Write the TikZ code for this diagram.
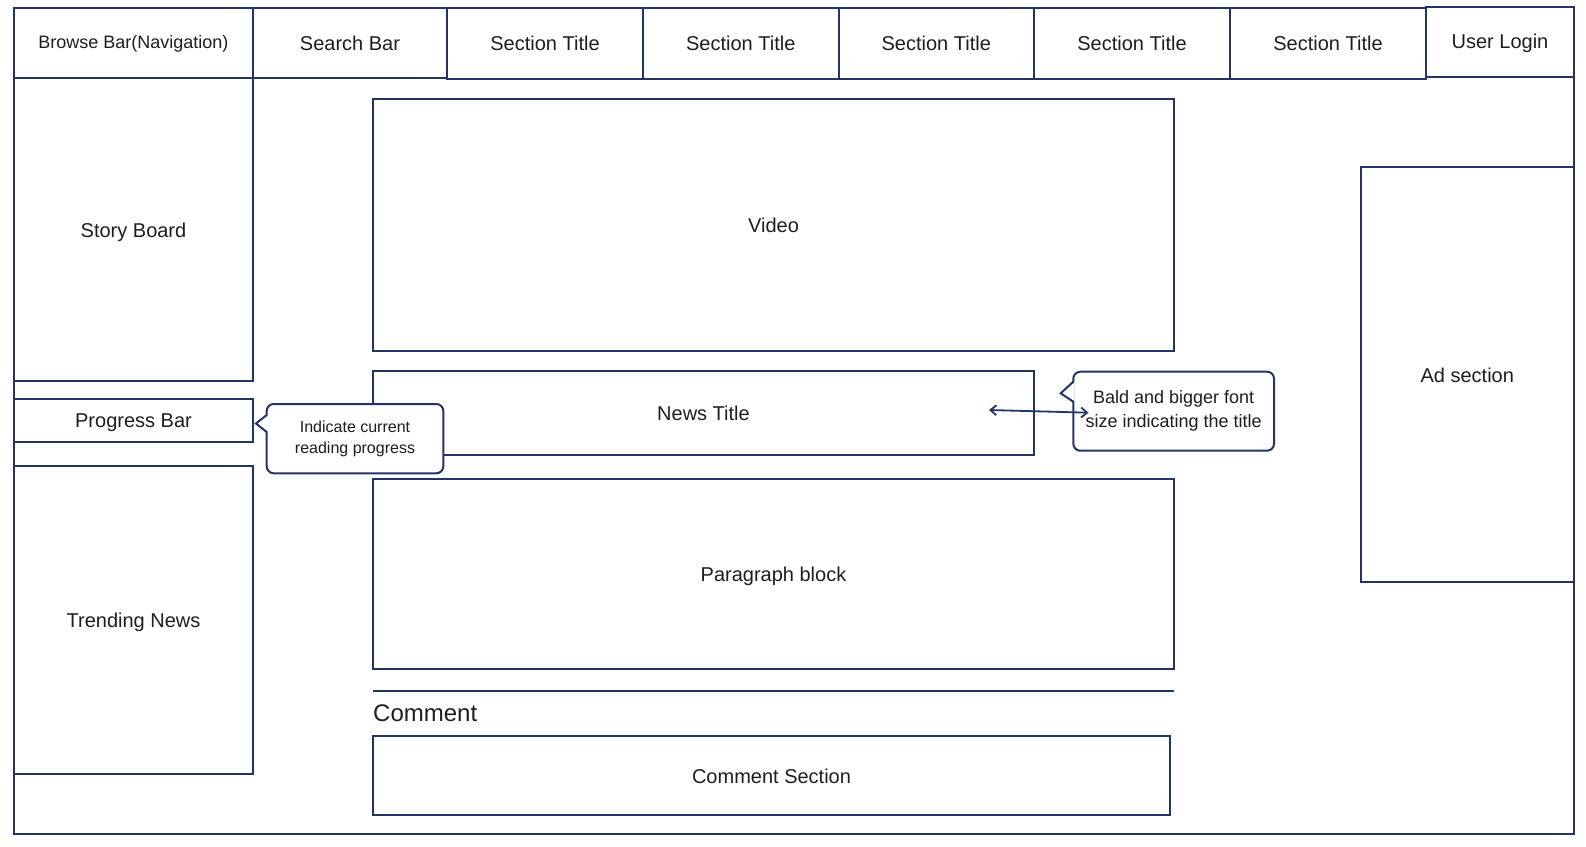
\documentclass[tikz,border=0pt]{standalone}
\usepackage{fontspec}
\setmainfont{Liberation Sans}
\usetikzlibrary{arrows.meta}
\definecolor{navy}{RGB}{35,52,102}
\definecolor{ink}{RGB}{30,30,30}
\begin{document}
\begin{tikzpicture}[x=1pt,y=-1pt,
  frame/.style={draw=navy,line width=2pt},
  box/.style={frame,fill=white,inner sep=0pt,text=ink,font=\fontsize{20}{24}\selectfont,align=center,text height=15pt,text depth=0pt},
  callbox/.style={frame,fill=white,rounded corners=7pt,inner sep=0pt,text=ink,align=center},
  ptr/.style={draw=navy,line width=2pt,line join=miter},
  dbl/.style={draw=navy,line width=1.8pt,{Straight Barb[length=6pt,width=10pt]}-{Straight Barb[length=6pt,width=10pt]}}]
\useasboundingbox (0,0) rectangle (1586,846);
\fill[white] (0,0) rectangle (1586,846);
% outer frame
\draw[frame] (14,8) rectangle (1574,834);
% top bar
\node[box,minimum width=239pt,minimum height=70pt,font=\fontsize{18}{22}\selectfont,text height=13.5pt,text depth=2pt] (browse) at (133.5,43) {Browse Bar(Navigation)};
\node[box,minimum width=194pt,minimum height=70pt] (search) at (350,43) {Search Bar};
\node[box,minimum width=196pt,minimum height=70.5pt] (sec1) at (545,43.25) {Section Title};
\node[box,minimum width=195.5pt,minimum height=70.5pt] (sec2) at (740.75,43.25) {Section Title};
\node[box,minimum width=195.5pt,minimum height=70.5pt] (sec3) at (936.25,43.25) {Section Title};
\node[box,minimum width=196pt,minimum height=70.5pt] (sec4) at (1132,43.25) {Section Title};
\node[box,minimum width=196pt,minimum height=70.5pt] (sec5) at (1328,43.25) {Section Title};
\node[box,minimum width=148pt,minimum height=70pt,text depth=2pt] (login) at (1500,42) {User Login};
% left column
\node[box,minimum width=239pt,minimum height=303pt] (story) at (133.5,229.5) {Story Board};
\node[box,minimum width=239pt,minimum height=43.5pt] (progress) at (133.5,420.25) {Progress Bar};
\node[box,minimum width=239pt,minimum height=308pt] (trending) at (133.5,620) {Trending News};
% main column
\node[box,minimum width=801pt,minimum height=252pt] (video) at (773.5,225) {Video};
\node[box,minimum width=661pt,minimum height=84pt] (news) at (703.5,413) {News Title};
\node[box,minimum width=801pt,minimum height=190.5pt] (para) at (773.5,573.75) {Paragraph block};
\coordinate (cl1) at (373,691);
\coordinate (cl2) at (1174,691);
\draw[frame] (cl1) -- (cl2);
\node[anchor=base west,inner sep=0pt,text=ink,font=\fontsize{24}{28}\selectfont] (commentlbl) at (373,721) {Comment};
\node[box,minimum width=797pt,minimum height=79pt] (commentsec) at (771.5,775.5) {Comment Section};
% right column
\node[box,minimum width=213.5pt,minimum height=415pt] (ad) at (1467.25,374.5) {Ad section};
% callout 1
\node[callbox,minimum width=176.6pt,minimum height=69.3pt,font=\fontsize{16}{21}\selectfont] (call1) at (355,438.65) {\raisebox{-1.5pt}{Indicate current}\\\raisebox{-1.5pt}{reading progress}};
\fill[white] (268,415.5) -- (256,423.5) -- (268,431.5) -- cycle;
\draw[ptr] (266.7,415) -- (256,423.5) -- (266.7,432);
% callout 2
\node[callbox,minimum width=200.7pt,minimum height=79pt,font=\fontsize{18}{24}\selectfont] (call2) at (1173.65,411.2) {\raisebox{-1pt}{Bald and bigger font}\\\raisebox{-1pt}{size indicating the title}};
\fill[white] (1074.6,382.2) -- (1060.7,393.3) -- (1074.6,401.2) -- cycle;
\draw[ptr] (1073.3,381.7) -- (1060.7,393.3) -- (1073.3,401.7);
% arrow
\coordinate (a1) at (989,410);
\coordinate (a2) at (1088.5,412.7);
\draw[dbl] (a1) -- (a2);
\end{tikzpicture}
\end{document}
